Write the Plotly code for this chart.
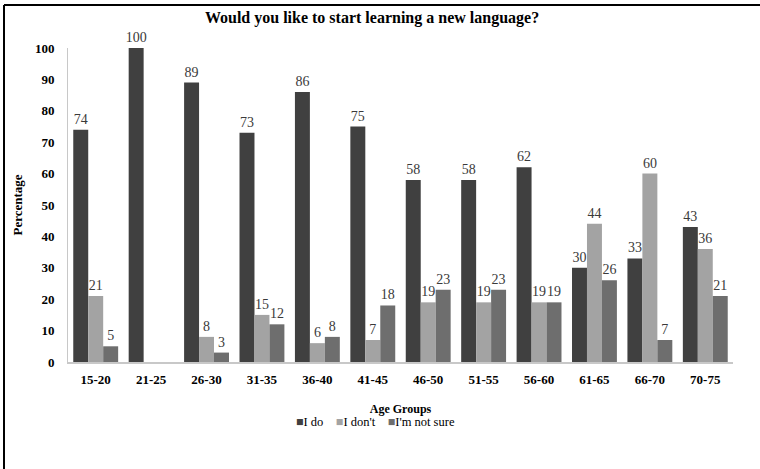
import plotly.graph_objects as go

categories = ["15-20", "21-25", "26-30", "31-35", "36-40", "41-45",
              "46-50", "51-55", "56-60", "61-65", "66-70", "70-75"]
i_do = [74, 100, 89, 73, 86, 75, 58, 58, 62, 30, 33, 43]
i_dont = [21, 0, 8, 15, 6, 7, 19, 19, 19, 44, 60, 36]
not_sure = [5, 0, 3, 12, 8, 18, 23, 23, 19, 26, 7, 21]
y_ticks = list(range(0, 101, 10))

series = [("I do", i_do, "#404040"),
          ("I don't", i_dont, "#a3a3a3"),
          ("I'm not sure", not_sure, "#6e6e6e")]

FONT = "Liberation Serif, Times New Roman, serif"

fig = go.Figure()
for name, vals, col in series:
    fig.add_trace(go.Bar(
        x=categories, y=vals, name=name,
        marker=dict(color=col, line=dict(width=0)),
        text=[str(v) if v else "" for v in vals],
        textposition="outside", cliponaxis=False, constraintext="none",
        textfont=dict(family=FONT, size=14, color="#3a3a3a"),
        showlegend=False,
    ))

L, R, T, B = 68, 27, 48, 107
W, H = 760, 469
pw, ph = W - L - R, H - T - B

def px(x):
    return (x - L) / pw

def py(y):
    return (H - B - y) / ph

legend_text = "&nbsp;&nbsp;&nbsp;&nbsp;".join(
    f"<span style='color:{col}'>■</span>{name}" for name, _, col in series)

fig.update_layout(
    width=W, height=H,
    margin=dict(l=L, r=R, t=T, b=B),
    paper_bgcolor="white", plot_bgcolor="white",
    barmode="group", bargap=0.19, bargroupgap=0,
    font=dict(family=FONT, color="#000000"),
    title=dict(text="<b>Would you like to start learning a new language?</b>",
               x=372 / W, xanchor="center", y=1 - 17 / H, yanchor="middle",
               font=dict(family=FONT, size=16, color="#000000")),
    xaxis=dict(showgrid=False, showline=True, linecolor="#c8c8c8", linewidth=1.5,
               ticks="", ticklabelstandoff=5,
               tickfont=dict(family=FONT, size=13, color="#000000", weight="bold"),
               title=dict(text="<b>Age Groups</b>", font=dict(family=FONT, size=12), standoff=18)),
    yaxis=dict(range=[0, 100], showgrid=False, showline=True, linecolor="#c8c8c8", linewidth=1,
               tickvals=y_ticks, ticks="", zeroline=False, ticklabelstandoff=10,
               tickfont=dict(family=FONT, size=13, color="#000000", weight="bold"),
               title=dict(text="<b>Percentage</b>", font=dict(family=FONT, size=13), standoff=9)),
    showlegend=False,
    annotations=[dict(text=legend_text, xref="paper", yref="paper",
                      x=px(375), y=py(422), xanchor="center", yanchor="middle",
                      showarrow=False, font=dict(family=FONT, size=12.5, color="#000000"))],
    shapes=[
        dict(type="line", xref="paper", yref="paper", x0=px(4), x1=px(760),
             y0=py(5), y1=py(5), line=dict(color="#000000", width=2)),
        dict(type="line", xref="paper", yref="paper", x0=px(4), x1=px(4),
             y0=py(5), y1=py(469), line=dict(color="#000000", width=2)),
    ],
)

fig.write_html("out.html")
